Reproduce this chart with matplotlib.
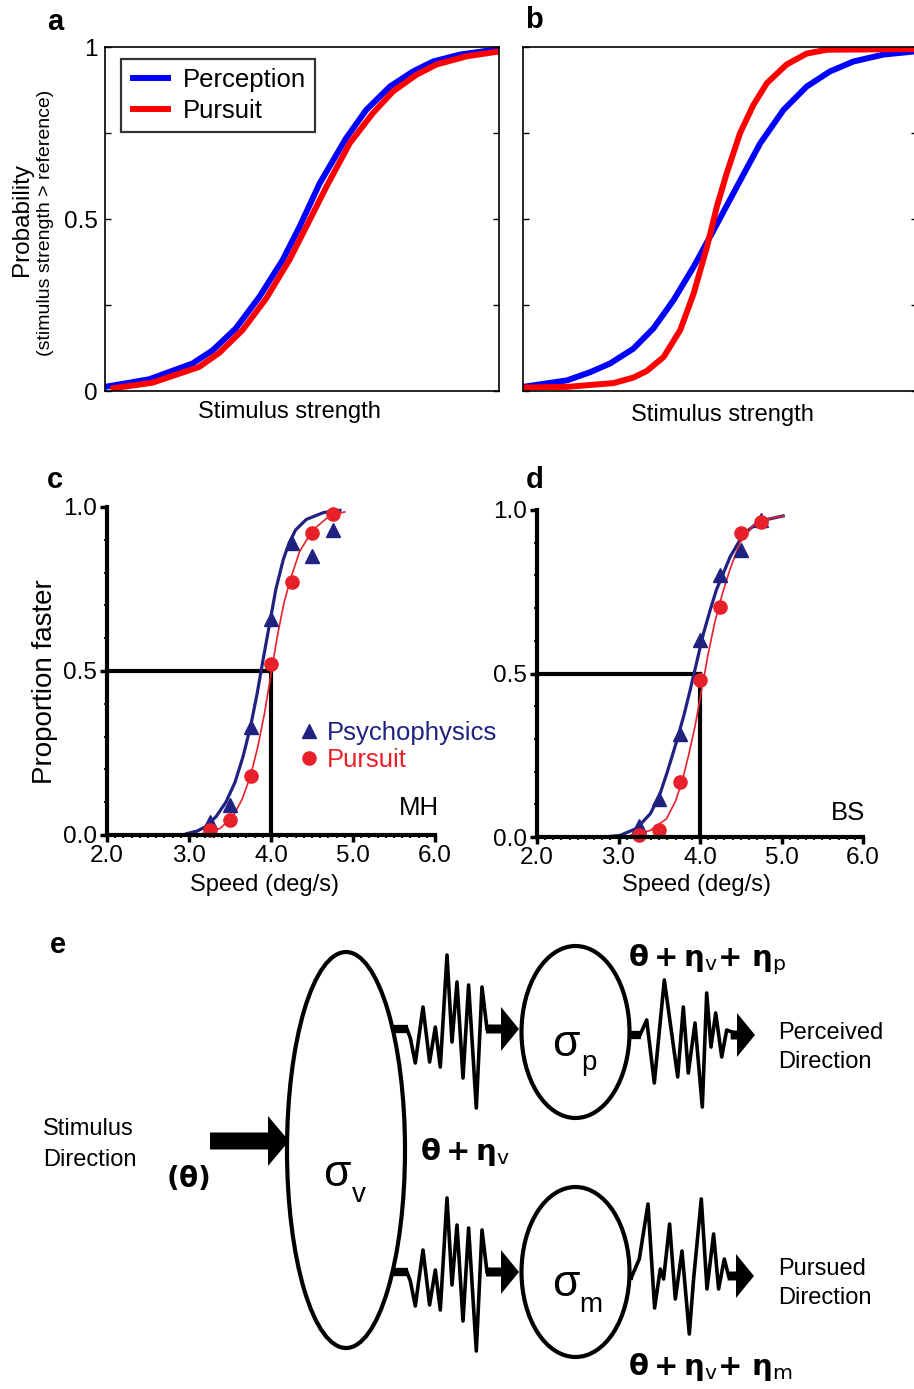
import numpy as np
import matplotlib
matplotlib.use("Agg")
import matplotlib.pyplot as plt
from matplotlib.patches import Ellipse, FancyArrow
from matplotlib.ticker import MultipleLocator

plt.rcParams['font.family'] = ['Liberation Sans', 'DejaVu Sans']
plt.rcParams['mathtext.fontset'] = 'dejavusans'

# --- panel a: model psychometric curves (same noise) ---
a_x_perc = [0.0, 0.112, 0.222, 0.273, 0.332, 0.392, 0.451, 0.494, 0.545, 0.612, 0.663, 0.723, 0.782, 0.833, 0.901, 1.0]
a_y_perc = [0.012, 0.034, 0.080, 0.118, 0.182, 0.274, 0.381, 0.478, 0.604, 0.735, 0.817, 0.885, 0.929, 0.958, 0.978, 0.994]
a_x_purs = [0.014, 0.12, 0.239, 0.29, 0.349, 0.409, 0.468, 0.511, 0.562, 0.621, 0.68, 0.731, 0.79, 0.841, 0.918, 1.0]
a_y_purs = [0.007, 0.024, 0.07, 0.111, 0.177, 0.269, 0.381, 0.478, 0.594, 0.72, 0.808, 0.871, 0.919, 0.949, 0.973, 0.987]

# --- panel b: model curves (pursuit less noisy) ---
b_x_perc = [0.0, 0.112, 0.171, 0.221, 0.28, 0.331, 0.382, 0.433, 0.484, 0.534, 0.602, 0.661, 0.72, 0.779, 0.839, 0.915, 0.993]
b_y_perc = [0.012, 0.031, 0.055, 0.08, 0.123, 0.182, 0.264, 0.361, 0.468, 0.575, 0.72, 0.817, 0.885, 0.929, 0.958, 0.978, 0.987]
b_x_purs = [0.0, 0.112, 0.23, 0.28, 0.314, 0.357, 0.399, 0.433, 0.467, 0.492, 0.517, 0.551, 0.585, 0.619, 0.669, 0.72, 0.771, 0.993]
b_y_purs = [0.01, 0.012, 0.023, 0.039, 0.058, 0.099, 0.177, 0.283, 0.419, 0.536, 0.633, 0.75, 0.832, 0.895, 0.949, 0.981, 0.992, 0.994]

# --- panel c: subject MH ---
speeds = [3.25, 3.5, 3.75, 4.0, 4.25, 4.5, 4.75]
c_psy = [0.04, 0.09, 0.33, 0.66, 0.89, 0.85, 0.93]
c_pur = [0.015, 0.046, 0.18, 0.52, 0.77, 0.92, 0.98]
c_fit_psy_x = [2.97, 3.1, 3.2, 3.33, 3.45, 3.56, 3.66, 3.75, 3.83, 3.9, 3.98, 4.06, 4.15, 4.22, 4.3, 4.43, 4.64, 4.84]
c_fit_psy_y = [0.004, 0.012, 0.025, 0.056, 0.1, 0.16, 0.24, 0.33, 0.43, 0.53, 0.64, 0.75, 0.84, 0.89, 0.93, 0.962, 0.983, 0.99]
c_fit_pur_x = [3.17, 3.38, 3.54, 3.65, 3.75, 3.84, 3.92, 4.0, 4.08, 4.16, 4.25, 4.35, 4.51, 4.72, 4.9]
c_fit_pur_y = [0.005, 0.02, 0.058, 0.11, 0.18, 0.27, 0.37, 0.49, 0.61, 0.71, 0.79, 0.865, 0.93, 0.974, 0.985]

# --- panel d: subject BS ---
d_psy = [0.033, 0.117, 0.314, 0.602, 0.80, 0.878, 0.969]
d_pur = [0.005, 0.022, 0.168, 0.48, 0.704, 0.93, 0.964]
d_fit_psy_x = [2.82, 3.02, 3.22, 3.39, 3.5, 3.6, 3.71, 3.8, 3.88, 3.96, 4.04, 4.12, 4.2, 4.37, 4.53, 4.73, 5.02]
d_fit_psy_y = [0.0, 0.005, 0.026, 0.071, 0.125, 0.2, 0.29, 0.37, 0.45, 0.535, 0.62, 0.69, 0.755, 0.857, 0.925, 0.966, 0.982]
d_fit_pur_x = [3.14, 3.39, 3.59, 3.7, 3.78, 3.86, 3.94, 4.02, 4.1, 4.18, 4.27, 4.37, 4.49, 4.65, 4.86, 5.02]
d_fit_pur_y = [0.005, 0.02, 0.056, 0.11, 0.17, 0.25, 0.34, 0.45, 0.56, 0.655, 0.74, 0.82, 0.9, 0.952, 0.974, 0.982]

speed_ticks = [2.0, 3.0, 4.0, 5.0, 6.0]

# --- panel e: traced noise waveforms (dx, dy in px from start of trace) ---
wave_left_dx = [0, 3.3, 8.3, 16, 22.6, 28.3, 33.3, 40, 45, 50, 56, 61.6, 69.3, 75, 80]
wave_left_dy = [0, 9, 34, -22, 33, -2, 38, -74, 13, -47, 49, -44, 79, -42, 0]
wave_rt_dx = [0, 6.7, 14.3, 24.3, 37.7, 43.3, 48.3, 55, 62.3, 66.7, 71, 75.7, 81.7, 86.7, 91.7]
wave_rt_dy = [0, -15, 48, -55, 42, -28, 38, -12, 72, -42, 12, -22, 22, -5, -3]
wave_rb_dx = [0, 7.3, 16, 22.6, 28.3, 31.6, 37.6, 43.3, 50, 57.3, 61.6, 69.3, 75, 81.6, 86.6, 92.3, 96.6]
wave_rb_dy = [0, -17, -72, 32, -7, 3, -52, 23, -25, 58, 3, -77, 13, -42, 13, -17, 0]

BLUE = '#0000ff'
RED = '#ff0000'
NAVY = '#1f2280'
CRED = '#e8202a'

W, H = 914, 1389
fig = plt.figure(figsize=(W / 100, H / 100), dpi=100)


def rect(l, t, r, b):
    return [l / W, 1 - b / H, (r - l) / W, (b - t) / H]


# full-figure axes in pixel coords for the diagram and free text
ax_e = fig.add_axes([0, 0, 1, 1])
ax_e.set_xlim(0, W)
ax_e.set_ylim(H, 0)
ax_e.axis('off')


def style_ab(ax):
    ax.set_xlim(0, 1)
    ax.set_ylim(0, 1)
    ax.set_xticks([])
    ax.set_yticks([0, 0.25, 0.5, 0.75, 1])
    ax.tick_params(axis='y', direction='in', length=4, width=1, right=True, labelsize=17.5, pad=5)
    for s in ax.spines.values():
        s.set_linewidth(1.2)
    ax.set_facecolor('none')


ax_a = fig.add_axes(rect(105, 47, 499, 391))
style_ab(ax_a)
ax_a.set_yticklabels(['0', '', '0.5', '', '1'])
ax_a.plot(a_x_perc, a_y_perc, color=BLUE, lw=4.3, label='Perception', solid_capstyle='butt')
ax_a.plot(a_x_purs, a_y_purs, color=RED, lw=4.3, label='Pursuit', solid_capstyle='butt')
leg = ax_a.legend(loc='upper left', bbox_to_anchor=(121 / W, 1 - 59 / H), bbox_transform=fig.transFigure,
                  fontsize=18.5, frameon=True, fancybox=False, borderaxespad=0, borderpad=0.35,
                  handlelength=1.6, handletextpad=0.45, labelspacing=0.28)
leg.get_frame().set_edgecolor('black')
leg.get_frame().set_linewidth(1.6)

ax_b = fig.add_axes(rect(523, 47, 917, 391))
style_ab(ax_b)
ax_b.set_yticklabels([])
ax_b.plot(b_x_perc, b_y_perc, color=BLUE, lw=4.3, solid_capstyle='butt')
ax_b.plot(b_x_purs, b_y_purs, color=RED, lw=4.3, solid_capstyle='butt')


def style_cd(ax):
    ax.set_xlim(2, 6)
    ax.set_ylim(0, 1)
    ax.set_facecolor('none')
    for side in ['top', 'right']:
        ax.spines[side].set_visible(False)
    for side in ['left', 'bottom']:
        ax.spines[side].set_linewidth(3)
    ax.set_xticks(speed_ticks)
    ax.set_xticklabels([f'{v:.1f}' for v in speed_ticks])
    ax.set_yticks([0, 0.5, 1])
    ax.set_yticklabels(['0.0', '0.5', '1.0'])
    ax.xaxis.set_minor_locator(MultipleLocator(0.1))
    ax.yaxis.set_minor_locator(MultipleLocator(0.1))
    ax.tick_params(which='major', length=5, width=2.5, labelsize=17.5, pad=2.5)
    ax.tick_params(which='minor', length=2.5, width=1.3)
    ax.plot([2, 4], [0.5, 0.5], color='black', lw=3, clip_on=False)
    ax.plot([4, 4], [0, 0.5], color='black', lw=3, clip_on=False)


ax_c = fig.add_axes(rect(107, 507, 435, 835))
style_cd(ax_c)
ax_c.plot(c_fit_psy_x, c_fit_psy_y, color=NAVY, lw=2.3)
ax_c.plot(c_fit_pur_x, c_fit_pur_y, color=CRED, lw=1.2)
h_psy, = ax_c.plot(speeds, c_psy, '^', color=NAVY, ms=10, ls='none', clip_on=False)
h_pur, = ax_c.plot(speeds, c_pur, 'o', color=CRED, ms=9.5, ls='none', clip_on=False)
ax_c.legend([h_psy, h_pur], ['Psychophysics', 'Pursuit'], loc='upper left',
            bbox_to_anchor=(300 / W, 1 - 721 / H), bbox_transform=fig.transFigure,
            frameon=False, fontsize=18.5, borderpad=0, borderaxespad=0, handlelength=0.7,
            handletextpad=0.35, labelspacing=0.1, labelcolor='markerfacecolor')
ax_c.text(5.8, 0.082, 'MH', fontsize=18.5, ha='center', va='center')

ax_d = fig.add_axes(rect(537, 510, 863, 837))
style_cd(ax_d)
ax_d.plot(d_fit_psy_x, d_fit_psy_y, color=NAVY, lw=2.3)
ax_d.plot(d_fit_pur_x, d_fit_pur_y, color=CRED, lw=1.2)
ax_d.plot(speeds, d_psy, '^', color=NAVY, ms=10, ls='none', clip_on=False)
ax_d.plot(speeds, d_pur, 'o', color=CRED, ms=9.5, ls='none', clip_on=False)
ax_d.text(5.82, 0.073, 'BS', fontsize=18.5, ha='center', va='center')

# panel letters and axis titles
lab = dict(fontsize=21, fontweight='bold', ha='center', va='center')
ax_e.text(55, 22, 'a', **lab)
ax_e.text(534, 20, 'b', **lab)
ax_e.text(55, 480, 'c', **lab)
ax_e.text(535, 480, 'd', **lab)
ax_e.text(58, 945, 'e', **lab)

ax_e.text(22, 220, 'Probability', rotation=90, fontsize=17.5, ha='center', va='center')
ax_e.text(46, 223, '(stimulus strength > reference)', rotation=90, fontsize=14, ha='center', va='center')
ax_e.text(289, 412, 'Stimulus strength', fontsize=17, ha='center', va='center')
ax_e.text(722, 415, 'Stimulus strength', fontsize=17, ha='center', va='center')
ax_e.text(45, 682, 'Proportion faster', rotation=90, fontsize=20, ha='center', va='center')
ax_e.text(265, 885, 'Speed (deg/s)', fontsize=17, ha='center', va='center')
ax_e.text(697, 885, 'Speed (deg/s)', fontsize=17, ha='center', va='center')

# --- panel e diagram ---
ax_e.add_patch(Ellipse((346, 1150), 118, 396, fill=False, lw=3, color='black'))
ax_e.add_patch(Ellipse((575.5, 1032), 108, 172, fill=False, lw=3, color='black'))
ax_e.add_patch(Ellipse((575.5, 1272), 108, 170, fill=False, lw=3, color='black'))

ax_e.add_patch(FancyArrow(210, 1141, 79, 0, width=17, head_width=50, head_length=21,
                          length_includes_head=True, color='black', lw=0))


def noise(x0, y0, dx, dy, shaft_start, head_end):
    xs = x0 + np.array(dx)
    ys = y0 + np.array(dy)
    ax_e.plot(xs, ys, color='black', lw=2.6, solid_joinstyle='round')
    ax_e.plot([shaft_start, x0 + 1], [y0, y0], color='black', lw=6, solid_capstyle='butt')
    x1 = xs[-1]
    ax_e.add_patch(FancyArrow(x1 - 1, y0, head_end - x1 + 1, 0, width=9, head_width=44, head_length=18,
                              length_includes_head=True, color='black', lw=0))


noise(407, 1029, wave_left_dx, wave_left_dy, 393, 519)
noise(407, 1272, wave_left_dx, wave_left_dy, 392, 519)
noise(640, 1035, wave_rt_dx, wave_rt_dy, 629, 755)
noise(632, 1276, wave_rb_dx, wave_rb_dy, 629, 754)

ax_e.text(337, 1175, 'σ', fontsize=32, ha='center', va='center')
ax_e.text(359, 1195, 'v', fontsize=20, ha='center', va='center')
ax_e.text(566, 1044, 'σ', fontsize=32, ha='center', va='center')
ax_e.text(589, 1063, 'p', fontsize=20, ha='center', va='center')
ax_e.text(566, 1284, 'σ', fontsize=32, ha='center', va='center')
ax_e.text(591, 1305, 'm', fontsize=20, ha='center', va='center')

ax_e.text(43, 1129, 'Stimulus', fontsize=17, ha='left', va='center')
ax_e.text(43, 1160, 'Direction', fontsize=17, ha='left', va='center')
ax_e.text(188, 1178, r'$\mathbf{(\theta)}$', fontsize=20, ha='center', va='center')
ax_e.text(420, 1152, r'$\mathbf{\theta + \eta}_{\mathrm{v}}$', fontsize=21, ha='left', va='center')
ax_e.text(628, 960, r'$\mathbf{\theta + \eta}_{\mathrm{v}}\mathbf{+\ \eta}_{\mathrm{p}}$',
          fontsize=21, ha='left', va='center')
ax_e.text(628, 1367, r'$\mathbf{\theta + \eta}_{\mathrm{v}}\mathbf{+\ \eta}_{\mathrm{m}}$',
          fontsize=21, ha='left', va='center')
ax_e.text(778, 1033, 'Perceived', fontsize=17, ha='left', va='center')
ax_e.text(778, 1062, 'Direction', fontsize=17, ha='left', va='center')
ax_e.text(778, 1269, 'Pursued', fontsize=17, ha='left', va='center')
ax_e.text(778, 1298, 'Direction', fontsize=17, ha='left', va='center')

fig.savefig('out.png', dpi=100)
